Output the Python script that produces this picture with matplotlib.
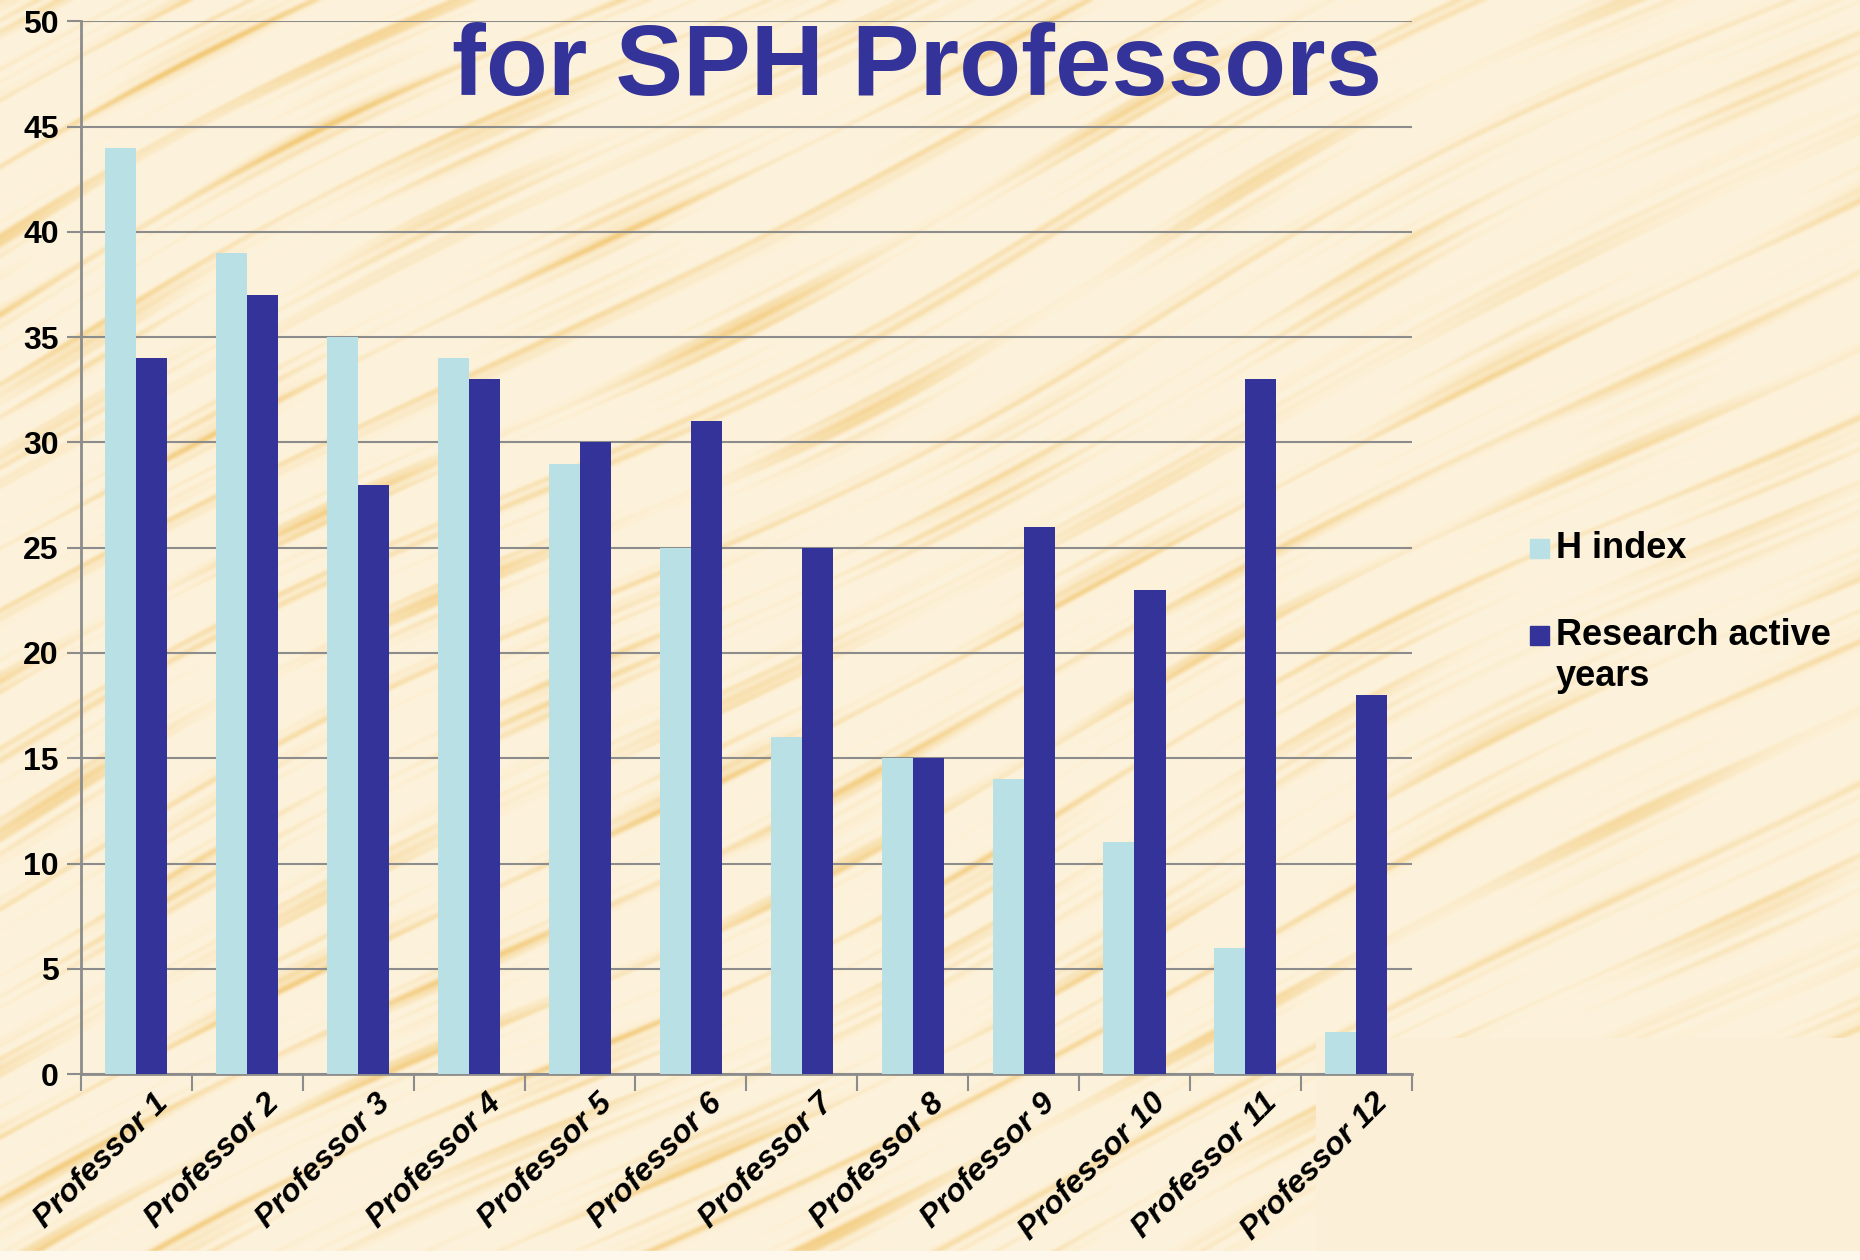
import numpy as np
import matplotlib
matplotlib.use("Agg")
import matplotlib.pyplot as plt
from matplotlib.patches import Rectangle

# chart values
professors = ["Professor %d" % i for i in range(1, 13)]
h_index = [44, 39, 35, 34, 29, 25, 16, 15, 14, 11, 6, 2]
active_years = [34, 37, 28, 33, 30, 31, 25, 15, 26, 23, 33, 18]
y_ticks = [0, 5, 10, 15, 20, 25, 30, 35, 40, 45, 50]
series_names = ["H index", "Research active", "years"]

light = "#B9E0E4"
dark = "#333399"
grid_col = "#8C8C8C"

plt.rcParams['font.family'] = ['Liberation Sans', 'DejaVu Sans']

fig = plt.figure(figsize=(18.6, 12.6), dpi=100)

# sandy background with fine streaks running up to the right
bg = fig.add_axes([0, 0, 1, 1], zorder=-10)
h, w = 630, 930
yy, xx = np.mgrid[0:h, 0:w]
u = yy * np.cos(0.47) + xx * np.sin(0.47) + 6 * np.sin(xx * 0.011) + 3 * np.sin(yy * 0.023)
s = (np.sin(u * 0.19) + 0.7 * np.sin(u * 0.41 + 1.3) + 0.5 * np.sin(u * 0.83 + 0.7)
     + 0.4 * np.sin(u * 1.31 + 2.1) + 0.5 * np.sin(xx * 0.031 + u * 0.07)
     + 0.4 * np.sin(xx * 0.017 - yy * 0.029))
s = np.clip((s + 0.2) / 3.2, 0, 1) ** 1.8
warm = np.clip(1.2 - xx / w * 0.6, 0.55, 1.0)
s = s * warm
base = np.array([0.992, 0.950, 0.860])
streak = np.array([0.950, 0.790, 0.470])
img = base[None, None, :] * (1 - s[..., None]) + streak[None, None, :] * s[..., None]
bg.imshow(img, extent=[0, 1, 0, 1], aspect='auto', interpolation='bilinear')
bg.add_patch(Rectangle((0.7075, 0), 0.2925, 0.176, color="#FCEFD8", transform=bg.transAxes))
bg.add_patch(Rectangle((0, 0), 1, 0.007, color="#FDF7EC", transform=bg.transAxes))
bg.set_xlim(0, 1)
bg.set_ylim(0, 1)
bg.axis('off')

ax = fig.add_axes([0.0435, 0.1476, 0.7155, 0.8354])
ax.set_facecolor('none')
x = np.arange(len(professors))
bw = 0.28
ax.bar(x - bw / 2, h_index, bw, color=light, zorder=3)
ax.bar(x + bw / 2, active_years, bw, color=dark, zorder=3)

ax.set_ylim(0, 50)
ax.set_xlim(-0.5, len(professors) - 0.5)
ax.set_yticks(y_ticks)
ax.set_yticklabels([str(t) for t in y_ticks], fontsize=23, fontweight='bold')
ax.yaxis.grid(True, color=grid_col, linewidth=1.5, zorder=0)
ax.set_xticks(np.arange(-0.5, len(professors)))
ax.set_xticklabels([])
# labels hang a little right of the group centre, as on the slide
ax.set_xticks(x + 0.15, minor=True)
ax.set_xticklabels(professors, minor=True, rotation=45, ha='right', va='top',
                   rotation_mode='anchor', fontsize=23, fontweight='bold', style='italic')
ax.tick_params(axis='x', which='major', length=12, width=1.5, color=grid_col)
ax.tick_params(axis='x', which='minor', length=0, pad=10)
ax.tick_params(axis='y', length=10, width=1.5, color=grid_col, pad=6)
for side in ['top', 'right']:
    ax.spines[side].set_visible(False)
for side in ['left', 'bottom']:
    ax.spines[side].set_color(grid_col)
    ax.spines[side].set_linewidth(2)

fig.text(0.493, 0.925, "for SPH Professors", color=dark, fontsize=73,
         fontweight='bold', ha='center', va='baseline')

# legend drawn by hand so the square sits on the first line of a label
sq_w, sq_h = 19 / 1860, 19 / 1260
leg_rows = [(0.5643, light, series_names[0]), (0.496, dark, series_names[1])]
for yc, col, name in leg_rows:
    fig.patches.append(Rectangle((0.8226, yc - sq_h / 2), sq_w, sq_h, color=col,
                                 transform=fig.transFigure, figure=fig))
    fig.text(0.8366, yc, name, fontsize=26, fontweight='bold', va='center', ha='left')
fig.text(0.8366, 0.4627, series_names[2], fontsize=26, fontweight='bold', va='center', ha='left')

fig.savefig("out.png", dpi=100)
